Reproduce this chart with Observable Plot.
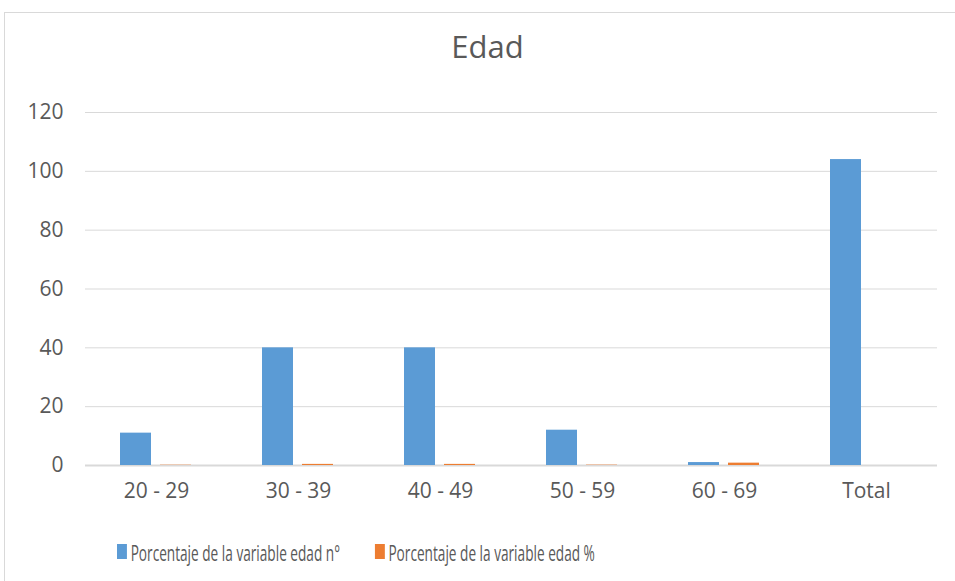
<!DOCTYPE html>
<html>
<head>
<meta charset="utf-8">
<script src="https://cdn.jsdelivr.net/npm/d3@7"></script>
<script src="https://cdn.jsdelivr.net/npm/@observablehq/plot@0.6"></script>
<style>
  html, body { margin: 0; padding: 0; background: #fff; }
  body { width: 955px; height: 581px; position: relative; overflow: hidden; font-family: "Open Sans", sans-serif; }
  #frame { position: absolute; left: 4px; top: 12px; width: 990px; height: 600px; border: 1px solid #d9d9d9; box-sizing: border-box; }
  #title { position: absolute; left: 0; width: 975px; top: 25px; text-align: center; font-size: 31px; color: #595959; }
  #chart { position: absolute; left: 0; top: 0; }
  #legend { position: absolute; left: 117px; top: 535px; transform: scaleX(0.62); transform-origin: left top; white-space: nowrap; font-size: 22px; color: #595959; }
  #legend span.item { display: inline-flex; align-items: center; }
  #legend span.sw { display: inline-block; width: 16px; height: 15px; margin-right: 6px; }
  #legend span.item + span.item { margin-left: 56px; }
</style>
</head>
<body>
<div id="frame"></div>
<div id="chart"></div>
<div id="title">Edad</div>
<div id="legend"></div>
<script>
const categories = ["20 - 29", "30 - 39", "40 - 49", "50 - 59", "60 - 69", "Total"];
const seriesNames = ["Porcentaje de la variable edad n°", "Porcentaje de la variable edad %"];
const numero = [11, 40, 40, 12, 1, 104];
const porcentaje = [0.1, 0.38, 0.38, 0.12, 0.8, 0];
const yTicks = [0, 20, 40, 60, 80, 100, 120];
const colors = ["#5b9bd5", "#ed7d31"];

const data = [];
categories.forEach((c, i) => {
  data.push({cat: c, series: seriesNames[0], value: numero[i]});
  data.push({cat: c, series: seriesNames[1], value: porcentaje[i]});
});

const chart = Plot.plot({
  width: 955,
  height: 520,
  marginLeft: 84,
  marginRight: 17,
  marginTop: 112,
  marginBottom: 55,
  style: {fontFamily: "Open Sans", fontSize: "21px", color: "#595959", background: "transparent", overflow: "visible"},
  fx: {domain: categories, padding: 0, label: null, tickSize: 0, tickPadding: 18},
  x: {domain: seriesNames, paddingInner: 0.22, paddingOuter: 0.845, axis: null},
  y: {domain: [0, 120], ticks: yTicks, label: null, tickSize: 0, tickPadding: 22},
  color: {domain: seriesNames, range: colors},
  marks: [
    Plot.ruleY(yTicks.filter(d => d > 0), {stroke: "#d9d9d9", strokeWidth: 1}),
    Plot.ruleY([0], {stroke: "#d9d9d9", strokeWidth: 2}),
    Plot.barY(data, {fx: "cat", x: "series", y: "value", fill: "series"})
  ]
});
chart.querySelectorAll("text").forEach(t => { t.style.fontSize = "21px"; });
document.getElementById("chart").appendChild(chart);

const legend = document.getElementById("legend");
seriesNames.forEach((s, i) => {
  const item = document.createElement("span");
  item.className = "item";
  const sw = document.createElement("span");
  sw.className = "sw";
  sw.style.background = colors[i];
  item.appendChild(sw);
  item.appendChild(document.createTextNode(s));
  legend.appendChild(item);
});
</script>
</body>
</html>
